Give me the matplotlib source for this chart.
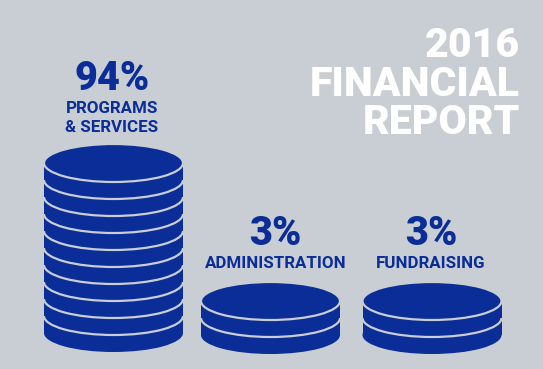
import matplotlib.pyplot as plt
from matplotlib.patches import Ellipse, Rectangle

# values
categories = ["PROGRAMS\n& SERVICES", "ADMINISTRATION", "FUNDRAISING"]
percents = [94, 3, 3]
coin_counts = [11, 3, 3]
title_lines = ["2016", "FINANCIAL", "REPORT"]

BG = "#c9cdd4"
BLUE = "#0a2d97"

stack_x = [113.5, 270.5, 432]
stack_bottom = [352, 354, 354]
label_x = [112, 275.5, 431]
pct_base = [89.5, 245, 245]
lab_base = [[112.7, 131.7], [268.3], [268.3]]

coin_w = 139
coin_h = 38
pitch = 17


def draw_stack(ax, xc, bottom, n):
    centers = [bottom - coin_h / 2 - k * pitch for k in range(n)]
    # bottom coin base, then each coin above it
    ax.add_patch(Ellipse((xc, centers[0]), coin_w, coin_h, facecolor=BLUE, edgecolor="none"))
    for k in range(1, n):
        ax.add_patch(Rectangle((xc - coin_w / 2, centers[k]), coin_w, pitch,
                               facecolor=BLUE, edgecolor="none"))
        ax.add_patch(Ellipse((xc, centers[k]), coin_w, coin_h, facecolor=BLUE,
                             edgecolor=BG, linewidth=1.6))


fig = plt.figure(figsize=(5.43, 3.69), dpi=100)
fig.patch.set_facecolor(BG)
ax = fig.add_axes([0, 0, 1, 1])
ax.set_facecolor(BG)
ax.set_xlim(0, 543)
ax.set_ylim(369, 0)
ax.axis("off")

for xc, bottom, n in zip(stack_x, stack_bottom, coin_counts):
    draw_stack(ax, xc, bottom, n)

font = "Roboto"
for i, cat in enumerate(categories):
    ax.text(label_x[i], pct_base[i], f"{percents[i]}%", ha="center", va="baseline",
            fontsize=28.5, fontweight=900, color=BLUE, family=font)
    for line, yb in zip(cat.split("\n"), lab_base[i]):
        ax.text(label_x[i], yb, line, ha="center", va="baseline",
                fontsize=12.2, fontweight="bold", color=BLUE, family=font)

for line, yb in zip(title_lines, [56.7, 96, 134]):
    ax.text(520, yb, line, ha="right", va="baseline", fontsize=29.5,
            fontweight=900, color="white", family=font)

fig.savefig("out.png", dpi=100, facecolor=BG)
